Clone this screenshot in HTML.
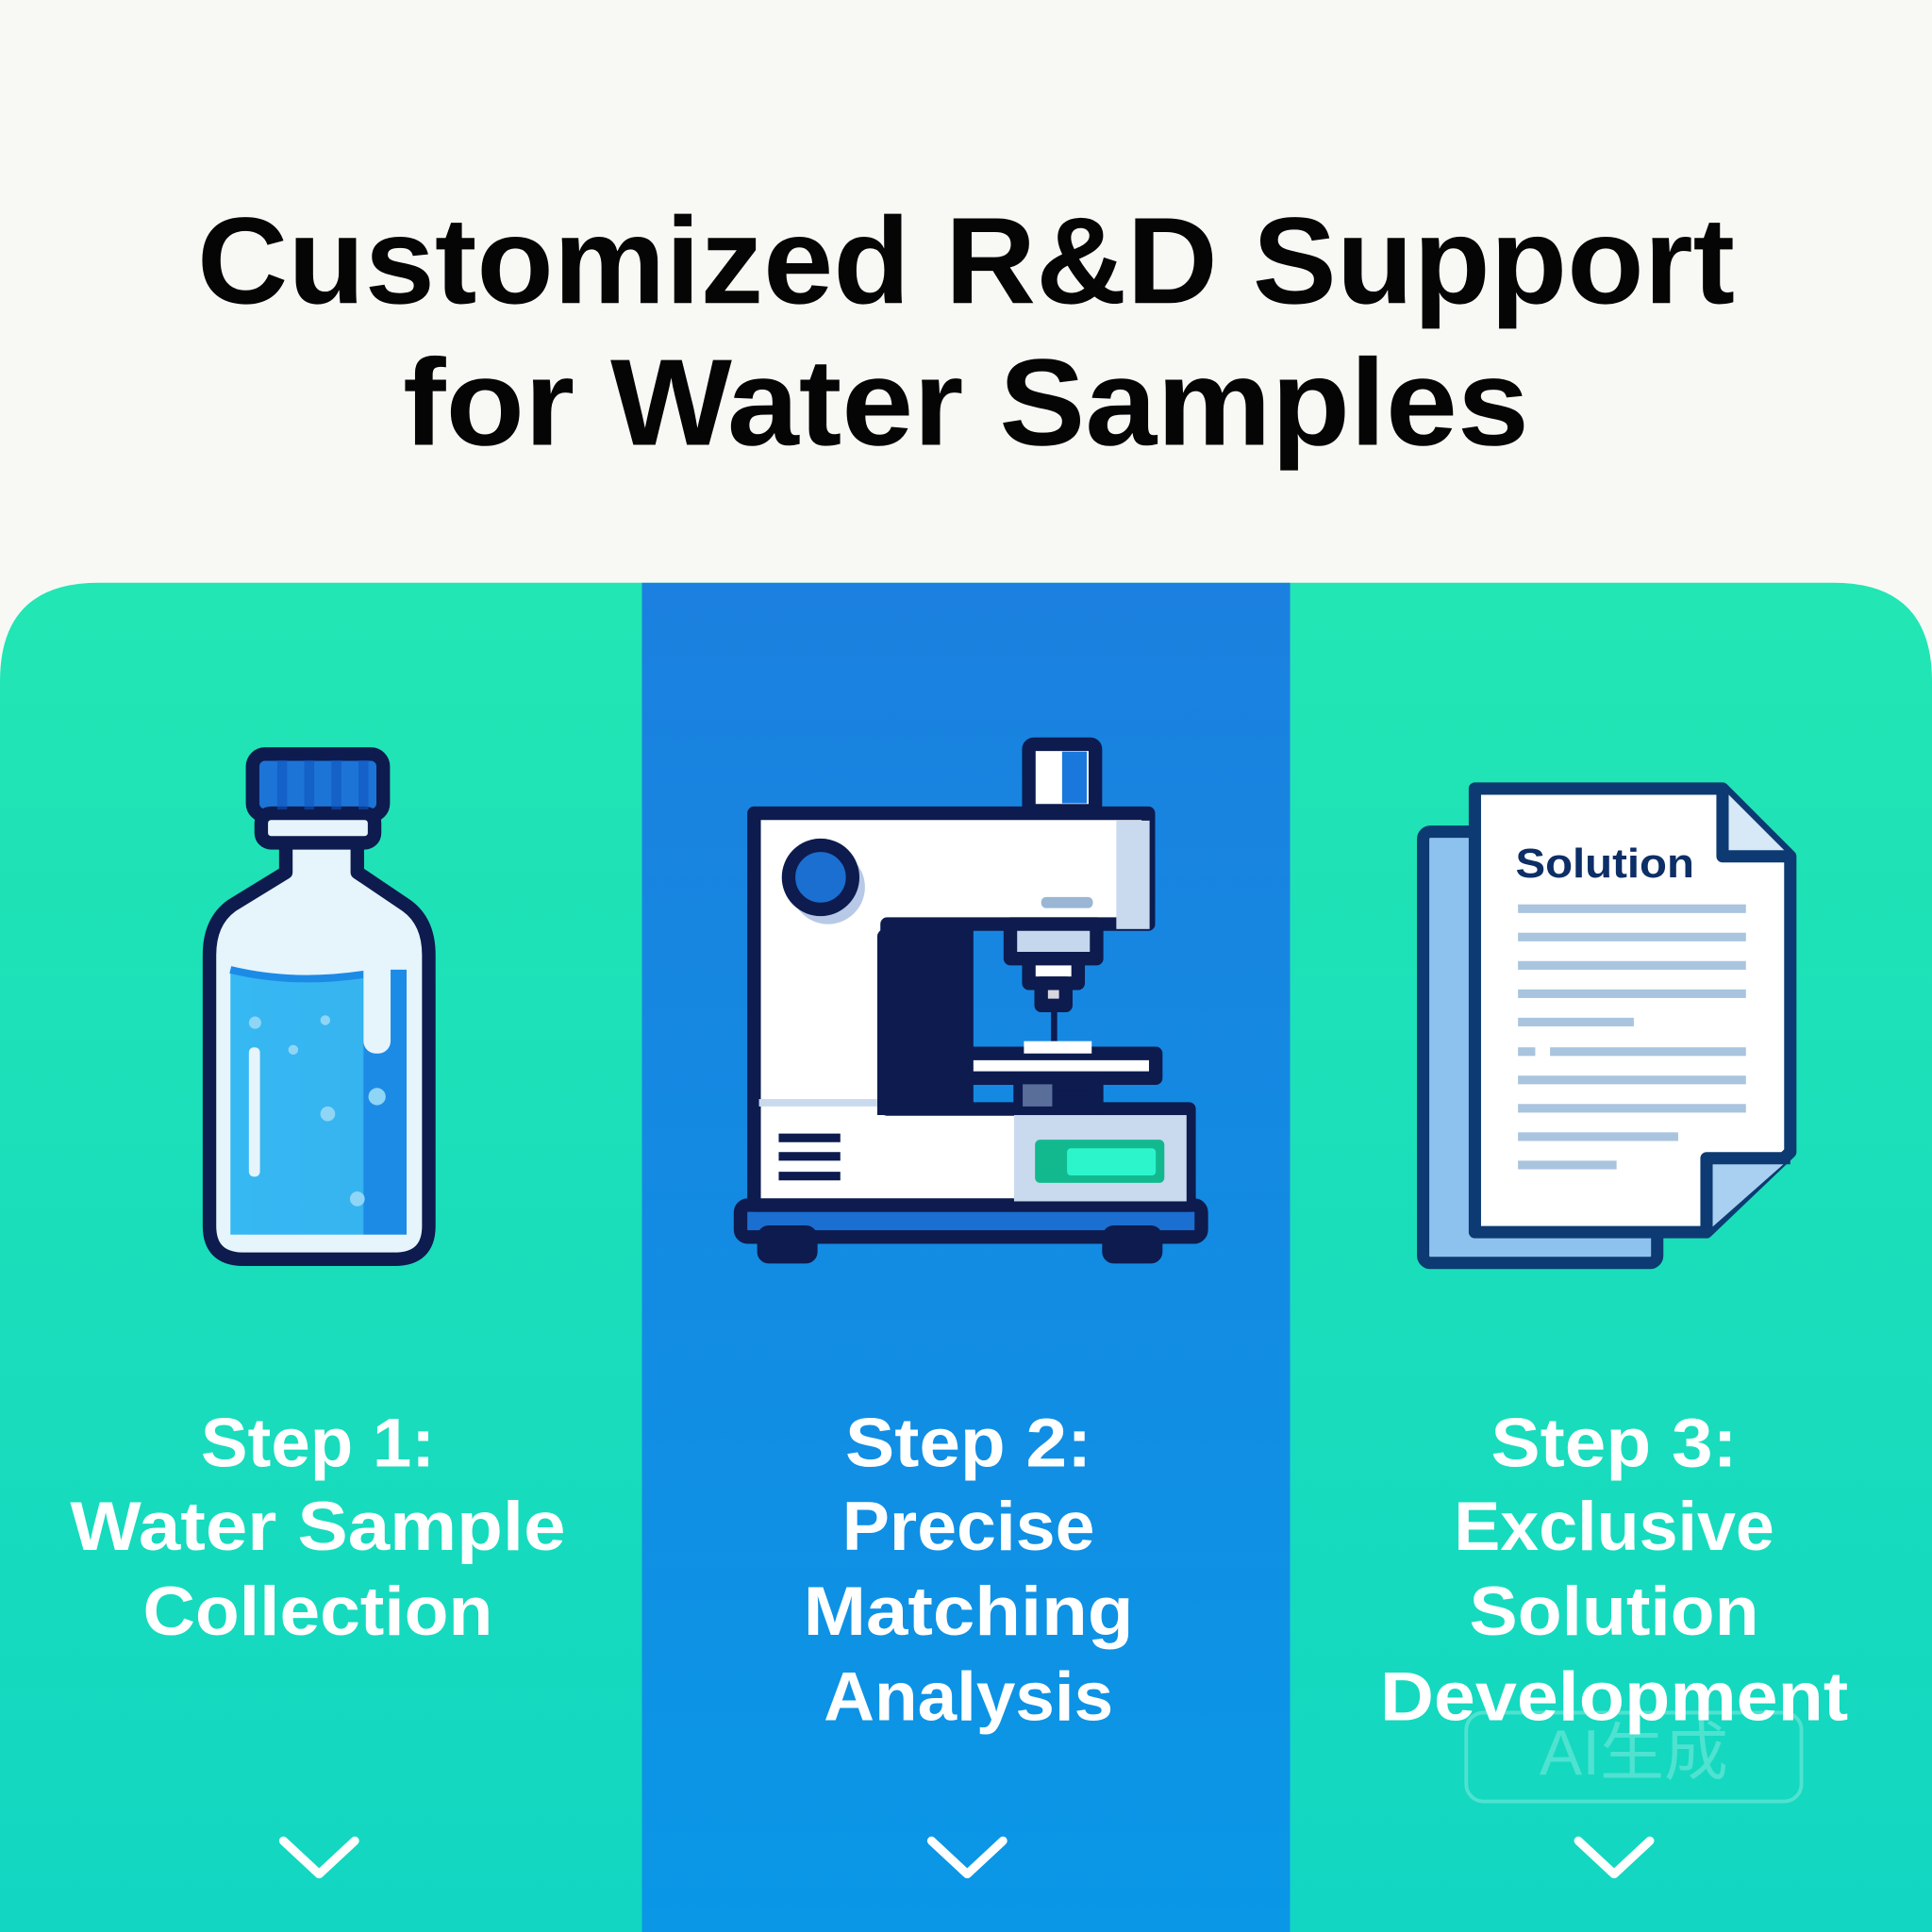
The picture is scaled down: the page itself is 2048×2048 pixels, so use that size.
<!DOCTYPE html>
<html><head><meta charset="utf-8"><style>
html,body{margin:0;padding:0;background:#f8f9f5;}
svg{display:block;}
</style></head><body>
<svg width="2048" height="2048" viewBox="0 0 1568 1568" xmlns="http://www.w3.org/2000/svg">
<defs>
<linearGradient id="g" x1="0" y1="0" x2="0" y2="1"><stop offset="0" stop-color="#22e6b3"/><stop offset="1" stop-color="#12d6c2"/></linearGradient>
<linearGradient id="b" x1="0" y1="0" x2="0" y2="1"><stop offset="0" stop-color="#1b80df"/><stop offset="1" stop-color="#0a97e6"/></linearGradient>
<linearGradient id="w" x1="0" y1="0" x2="1" y2="0"><stop offset="0" stop-color="#36b8f3"/><stop offset="0.75" stop-color="#36b4f0"/><stop offset="0.76" stop-color="#1c8be6"/><stop offset="1" stop-color="#1c8be6"/></linearGradient>
</defs>
<rect width="1568" height="1568" fill="#f8f9f5"/>
<path d="M0 553 Q0 473 80 473 H1488 Q1568 473 1568 553 V1568 H0 Z" fill="url(#g)"/>
<rect x="521" y="473" width="526" height="1095" fill="url(#b)"/>

<g font-family="Liberation Sans, sans-serif" font-weight="bold" fill="#050505" text-anchor="middle">
<text x="784" y="246" font-size="100" textLength="1248" lengthAdjust="spacingAndGlyphs">Customized R&amp;D Support</text>
<text x="784" y="361" font-size="100" textLength="914" lengthAdjust="spacingAndGlyphs">for Water Samples</text>
</g>

<!-- Bottle -->
<g stroke="#0d1b4f" stroke-width="11" stroke-linejoin="round">
<path d="M232 683 H290 V708 L330 735 Q348 748 348 775 V995 Q348 1022 320 1022 H198 Q170 1022 170 995 V775 Q170 748 188 735 L232 708 Z" fill="#e6f4fc"/>
<rect x="205" y="612" width="106" height="50" rx="10" fill="#1c74d6"/>
<rect x="212" y="660" width="92" height="24" rx="8" fill="#e8f4fb"/>
</g>
<path d="M187 787 Q240 800 300 790 L330 792 V1002 H187 Z" fill="url(#w)"/>
<path d="M187 787 Q240 800 300 790 L330 790" fill="none" stroke="#1c8be6" stroke-width="6"/>
<g fill="#1055c0" opacity="0.6"><rect x="225" y="617" width="8" height="40"/><rect x="247" y="617" width="8" height="40"/><rect x="269" y="617" width="8" height="40"/><rect x="291" y="617" width="8" height="40"/></g>
<rect x="295" y="770" width="22" height="85" rx="10" fill="#e6f4fc"/>
<rect x="202" y="850" width="9" height="105" rx="4" fill="#e6f4fc"/>
<g fill="#8fd5f6"><circle cx="207" cy="830" r="5"/><circle cx="264" cy="828" r="4"/><circle cx="238" cy="852" r="4"/><circle cx="306" cy="890" r="7"/><circle cx="266" cy="904" r="6"/><circle cx="290" cy="973" r="6"/></g>

<!-- Microscope -->
<g stroke="#0d1b4f" stroke-width="11" stroke-linejoin="round">
<rect x="835" y="604" width="54" height="54" rx="4" fill="#ffffff"/>
<rect x="601" y="978" width="374" height="26" rx="6" fill="#1a6fd0"/>
<rect x="620" y="1000" width="38" height="20" rx="4" fill="#0d1b4f"/>
<rect x="900" y="1000" width="38" height="20" rx="4" fill="#0d1b4f"/>
<path d="M612 660 H932 V750 H720 V900 H965 V978 H612 Z" fill="#ffffff"/>
<rect x="820" y="750" width="70" height="28" fill="#c5d7ec"/>
<rect x="835" y="778" width="40" height="20" fill="#ffffff"/>
<rect x="845" y="798" width="20" height="18" fill="#d9d6dd"/>
<rect x="783" y="855" width="155" height="20" fill="#ffffff"/>
<rect x="828" y="880" width="62" height="20" fill="#0d1b4f"/>
</g>
<rect x="862" y="610" width="20" height="42" fill="#1a78dc"/>
<rect x="906" y="666" width="27" height="88" fill="#c9daee"/>
<rect x="823" y="905" width="140" height="70" fill="#c9daee"/>
<path d="M712 760 Q712 752 730 752 H790 V905 H712 Z" fill="#0d1b4f"/>
<rect x="853" y="812" width="5" height="42" fill="#0d1b4f"/>
<rect x="831" y="845" width="55" height="10" fill="#ffffff"/>
<rect x="830" y="880" width="24" height="18" fill="#5a6e9a"/>
<circle cx="672" cy="720" r="30" fill="#b7c9e6"/>
<circle cx="666" cy="712" r="26" fill="#1a6fd0" stroke="#0d1b4f" stroke-width="11"/>
<rect x="845" y="728" width="42" height="9" rx="4" fill="#9ab6d4"/>
<rect x="616" y="892" width="96" height="6" fill="#c9daee"/>
<g fill="#0d1b4f"><rect x="632" y="920" width="50" height="7"/><rect x="632" y="935" width="50" height="7"/><rect x="632" y="951" width="50" height="7"/></g>
<rect x="840" y="925" width="105" height="35" rx="4" fill="#12b98f"/>
<rect x="866" y="932" width="72" height="22" rx="3" fill="#2cf5cc"/>

<!-- Document -->
<g stroke="#0d3a72" stroke-width="10" stroke-linejoin="round">
<rect x="1155" y="675" width="190" height="350" rx="6" fill="#8ec2ee"/>
<path d="M1197 640 H1398 L1453 695 V935 L1385 1000 H1197 Z" fill="#ffffff"/>
<path d="M1398 640 V695 H1453" fill="#d7e8f7"/>
<path d="M1385 1000 V940 H1453" fill="#a9d0f0"/>
</g>
<text x="1230" y="712" font-family="Liberation Sans, sans-serif" font-weight="bold" font-size="33" fill="#0d2e66" textLength="145" lengthAdjust="spacingAndGlyphs">Solution</text>
<g fill="#a9c4de">
<rect x="1232" y="734" width="185" height="7"/><rect x="1232" y="757" width="185" height="7"/><rect x="1232" y="780" width="185" height="7"/><rect x="1232" y="803" width="185" height="7"/><rect x="1232" y="826" width="94" height="7"/>
<rect x="1232" y="850" width="14" height="7"/><rect x="1258" y="850" width="159" height="7"/><rect x="1232" y="873" width="185" height="7"/><rect x="1232" y="896" width="185" height="7"/><rect x="1232" y="919" width="130" height="7"/><rect x="1232" y="942" width="80" height="7"/>
</g>

<!-- Step labels -->
<g font-family="Liberation Sans, sans-serif" font-weight="bold" font-size="56" fill="#ffffff" text-anchor="middle">
<text x="258" y="1190" textLength="190" lengthAdjust="spacingAndGlyphs">Step 1:</text>
<text x="258" y="1258" textLength="402" lengthAdjust="spacingAndGlyphs">Water Sample</text>
<text x="258" y="1327" textLength="284" lengthAdjust="spacingAndGlyphs">Collection</text>
<text x="786" y="1190" textLength="200" lengthAdjust="spacingAndGlyphs">Step 2:</text>
<text x="786" y="1258" textLength="205" lengthAdjust="spacingAndGlyphs">Precise</text>
<text x="786" y="1327" textLength="268" lengthAdjust="spacingAndGlyphs">Matching</text>
<text x="786" y="1396" textLength="235" lengthAdjust="spacingAndGlyphs">Analysis</text>
<text x="1310" y="1190" textLength="200" lengthAdjust="spacingAndGlyphs">Step 3:</text>
<text x="1310" y="1258" textLength="260" lengthAdjust="spacingAndGlyphs">Exclusive</text>
<text x="1310" y="1327" textLength="235" lengthAdjust="spacingAndGlyphs">Solution</text>
<text x="1310" y="1396" textLength="380" lengthAdjust="spacingAndGlyphs">Development</text>
</g>
<rect x="1190" y="1390" width="272" height="72" rx="14" fill="none" stroke="#ffffff" stroke-opacity="0.25" stroke-width="3"/>
<text x="1326" y="1440" font-family="Liberation Sans, Noto Sans CJK SC, sans-serif" font-size="52" fill="#ffffff" fill-opacity="0.25" text-anchor="middle">AI生成</text>

<g fill="none" stroke="#ffffff" stroke-width="7" stroke-linecap="round" stroke-linejoin="round">
<path d="M230 1494 L259 1521 L288 1494"/>
<path d="M756 1494 L785 1521 L814 1494"/>
<path d="M1281 1494 L1310 1521 L1339 1494"/>
</g>
</svg>
</body></html>
